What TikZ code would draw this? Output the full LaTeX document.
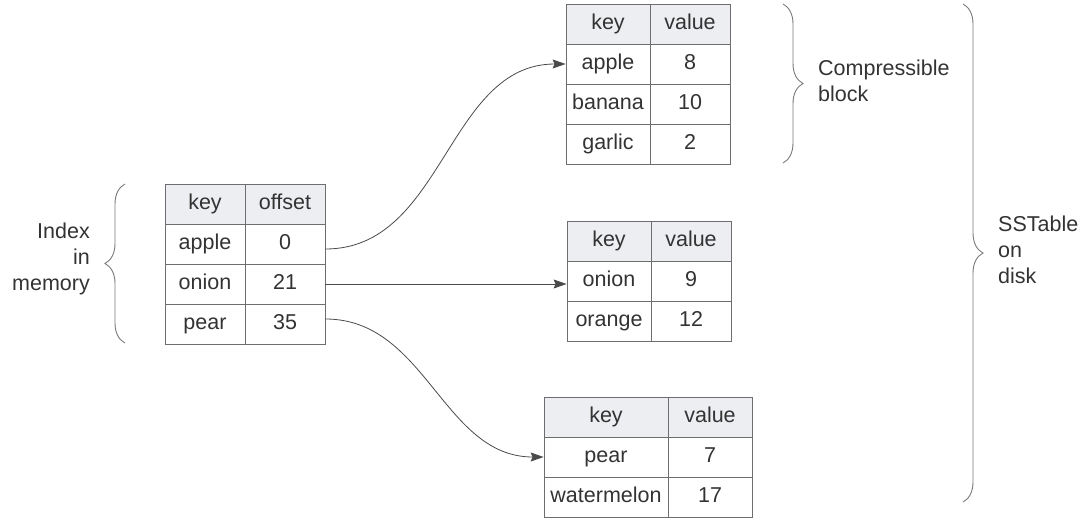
\documentclass[tikz,border=0pt]{standalone}
\usepackage{fontspec}
\setmainfont{Liberation Sans}
\usetikzlibrary{arrows.meta,decorations.pathreplacing}
\definecolor{txt}{HTML}{333333}
\definecolor{grid}{HTML}{6E6E6E}
\definecolor{head}{HTML}{EDEEF1}
\definecolor{brc}{HTML}{7A7A7A}
\definecolor{arr}{HTML}{4A4A4A}
\tikzset{
  cell/.style={draw=grid, line width=0.8pt, inner sep=0pt, minimum height=40pt, text=txt,
    text height=15.5pt, text depth=4.5pt, font=\fontsize{21.5}{24}\selectfont},
  hcell/.style={cell, fill=head},
  link/.style={draw=arr, line width=0.8pt, -{Stealth[length=13pt,width=9pt,inset=2pt]}},
  curly/.style={draw=brc, line width=0.9pt, decorate, decoration={brace, amplitude=20pt}},
  lbl/.style={text=txt, inner sep=0pt, font=\fontsize{21.5}{26}\selectfont}
}
\begin{document}
\begin{tikzpicture}[x=1pt,y=-1pt]
\useasboundingbox (0,0) rectangle (1083,517);
% Index table
\node[hcell, minimum width=80pt] (ih1) at (205,204) {key};
\node[hcell, minimum width=80pt] (ih2) at (285,204) {offset};
\node[cell, minimum width=80pt] (ia1) at (205,244) {apple};
\node[cell, minimum width=80pt] (ia2) at (285,244) {0};
\node[cell, minimum width=80pt] (io1) at (205,284) {onion};
\node[cell, minimum width=80pt] (io2) at (285,284) {21};
\node[cell, minimum width=80pt] (ip1) at (205,324) {pear};
\node[cell, minimum width=80pt] (ip2) at (285,324) {35};
% Top table
\node[hcell, minimum width=84pt] (th1) at (608,24) {key};
\node[hcell, minimum width=80pt] (th2) at (690,24) {value};
\node[cell, minimum width=84pt] (ta1) at (608,64) {apple};
\node[cell, minimum width=80pt] (ta2) at (690,64) {8};
\node[cell, minimum width=84pt] (tb1) at (608,104) {banana};
\node[cell, minimum width=80pt] (tb2) at (690,104) {10};
\node[cell, minimum width=84pt] (tg1) at (608,144) {garlic};
\node[cell, minimum width=80pt] (tg2) at (690,144) {2};
% Middle table
\node[hcell, minimum width=84pt] (mh1) at (609,241) {key};
\node[hcell, minimum width=80pt] (mh2) at (691,241) {value};
\node[cell, minimum width=84pt] (mo1) at (609,281) {onion};
\node[cell, minimum width=80pt] (mo2) at (691,281) {9};
\node[cell, minimum width=84pt] (mr1) at (609,321) {orange};
\node[cell, minimum width=80pt] (mr2) at (691,321) {12};
% Bottom table
\node[hcell, minimum width=124pt] (bh1) at (606,417) {key};
\node[hcell, minimum width=84pt] (bh2) at (710,417) {value};
\node[cell, minimum width=124pt] (bp1) at (606,457) {pear};
\node[cell, minimum width=84pt] (bp2) at (710,457) {7};
\node[cell, minimum width=124pt] (bw1) at (606,497) {watermelon};
\node[cell, minimum width=84pt] (bw2) at (710,497) {17};
% Connectors
\draw[link] ([yshift=-5pt]ia2.east) to[out=0,in=180] (ta1.west);
\draw[link] (io2.east) -- (io2.east -| mo1.west);
\draw[link] ([yshift=5pt]ip2.east) to[out=0,in=180] (bp1.west);
% Braces
\coordinate (lb1) at (125,343);
\coordinate (lb2) at (125,184);
\draw[curly] (lb1) -- (lb2);
\coordinate (cb1) at (783,4);
\coordinate (cb2) at (783,163);
\draw[curly] (cb1) -- (cb2);
\coordinate (sb1) at (963,4);
\coordinate (sb2) at (963,502);
\draw[curly] (sb1) -- (sb2);
% Labels
\node[lbl, align=right, anchor=east] (lmem) at (90,259) {Index\\in\\memory};
\node[lbl, align=left, anchor=west] (lcomp) at (818,81) {Compressible\\block};
\node[lbl, align=left, anchor=west] (ldisk) at (998,250) {SSTable\\on\\disk};
\end{tikzpicture}
\end{document}
